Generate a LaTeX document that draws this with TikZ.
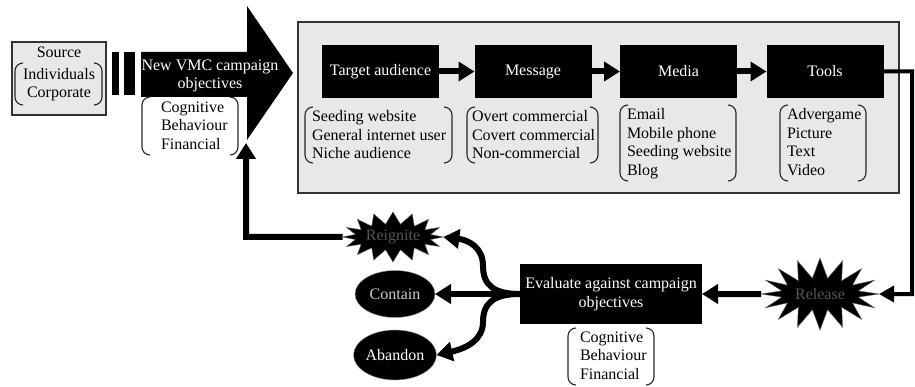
\documentclass[tikz,border=0pt]{standalone}
\usepackage{fontspec}
\setmainfont{Liberation Serif}
\usetikzlibrary{arrows.meta,shapes.symbols,shapes.geometric}
\definecolor{panel}{HTML}{E8E8E8}
\definecolor{startext}{HTML}{555555}
\newcommand{\brkpair}[4]{%
  \draw[brk] (#1+8,#2) -- (#1,#2) -- (#1,#4) -- (#1+8,#4);
  \draw[brk] (#3-8,#2) -- (#3,#2) -- (#3,#4) -- (#3-8,#4);}
\begin{document}
\begin{tikzpicture}[x=1pt,y=-1pt,line join=miter,
  every node/.style={font=\fontsize{16}{18.6}\selectfont, inner sep=0pt, outer sep=0pt},
  blk/.style={fill=black, text=white, minimum width=117pt, minimum height=53pt, align=center},
  lst/.style={align=left, anchor=north west},
  brk/.style={draw=black!85, line width=1.1pt, rounded corners=8pt},
  conn/.style={line width=6pt, -{Triangle[length=16pt,width=19pt]}},
  thin conn/.style={line width=4pt, -{Triangle[length=15pt,width=16pt]}},
  burst/.style={starburst, random starburst=0, fill=black, draw=black!60, text=startext},
  oval/.style={ellipse, fill=black, draw=black!40, minimum width=80pt}]
\useasboundingbox (0,0) rectangle (915,387);

% source
\node[draw=black!80, fill=panel, line width=1.2pt, minimum width=94pt, minimum height=73pt] (src) at (59,78.5) {};
\node (srct) at (59,52) {Source};
\node[align=center] (srcl) at (59,84.5) {Individuals\\Corporate};
\brkpair{15}{63}{102}{105}

% bars
\node[fill=black, minimum width=7pt, minimum height=43pt] (bar1) at (115.5,73.5) {};
\node[fill=black, minimum width=11pt, minimum height=43pt] (bar2) at (129.5,73.5) {};

% big arrow
\fill[black] (141,52) -- (247,52) -- (247,6) -- (293,73) -- (247,140) -- (247,97) -- (141,97) -- cycle;
\node[text=white, align=center] (obj) at (210,76) {New VMC campaign\\objectives};
\coordinate (objin) at (246,143);
\brkpair{142}{97}{238}{155}
\node[lst] (objl) at (161,101.5) {Cognitive\\Behaviour\\Financial};

% panel
\node[draw=black!80, fill=panel, line width=1.2pt, minimum width=601pt, minimum height=171pt] (panel) at (598.5,107.5) {};
\node[blk] (ta) at (380.5,71.5) {Target audience};
\node[blk] (msg) at (533,71.5) {Message};
\node[blk] (med) at (678.5,71.5) {Media};
\node[blk] (tools) at (825,71.5) {Tools};

\brkpair{305}{107}{452}{163}
\node[lst] (tal) at (312,110.5) {Seeding website\\General internet user\\Niche audience};
\brkpair{467}{107}{598}{163}
\node[lst] (msgl) at (472,110.5) {Overt commercial\\Covert commercial\\Non-commercial};
\brkpair{620}{105}{736}{181}
\node[lst] (medl) at (627,108.5) {Email\\Mobile phone\\Seeding website\\Blog};
\brkpair{780}{105}{866}{181}
\node[lst] (tooll) at (787,108.5) {Advergame\\Picture\\Text\\Video};

\draw[conn] (ta) -- (msg);
\draw[conn] (msg) -- (med);
\draw[conn] (med) -- (tools);

% bottom
\node[blk, minimum width=182pt, minimum height=60pt] (eval) at (611,294) {Evaluate against campaign\\objectives};
\brkpair{568}{328}{654}{385}
\node[lst] (evall) at (580,331.5) {Cognitive\\Behaviour\\Financial};

\node[burst, starburst points=16, starburst point height=20pt, minimum width=118pt, minimum height=72pt] (rel) at (820,294) {Release};
\node[burst, starburst points=16, starburst point height=12pt, minimum width=95pt, minimum height=50pt] (reig) at (393,237) {Reignite};
\node[oval, text=black!20, minimum height=47pt] (con) at (395,294) {Contain};
\node[oval, text=white, minimum height=50pt] (aba) at (395,355) {Abandon};

\coordinate (c1) at (912,71.5);
\coordinate (c2) at (912,294);
\draw[thin conn] (tools.east) -- (c1) -- (c2) -- (rel);
\draw[conn] (rel) -- (eval);
\draw[conn] (eval) -- (con);
\draw[conn] (eval.west) .. controls (495,294) and (483,286) .. (483,266) .. controls (483,247) and (468,240) .. (reig.east);
\draw[conn] (eval.west) .. controls (495,294) and (483,302) .. (483,322) .. controls (483,339) and (468,348) .. (aba.east);
\coordinate (c3) at (246,237);
\draw[conn] (reig) -- (c3) -- (objin);
\end{tikzpicture}
\end{document}
